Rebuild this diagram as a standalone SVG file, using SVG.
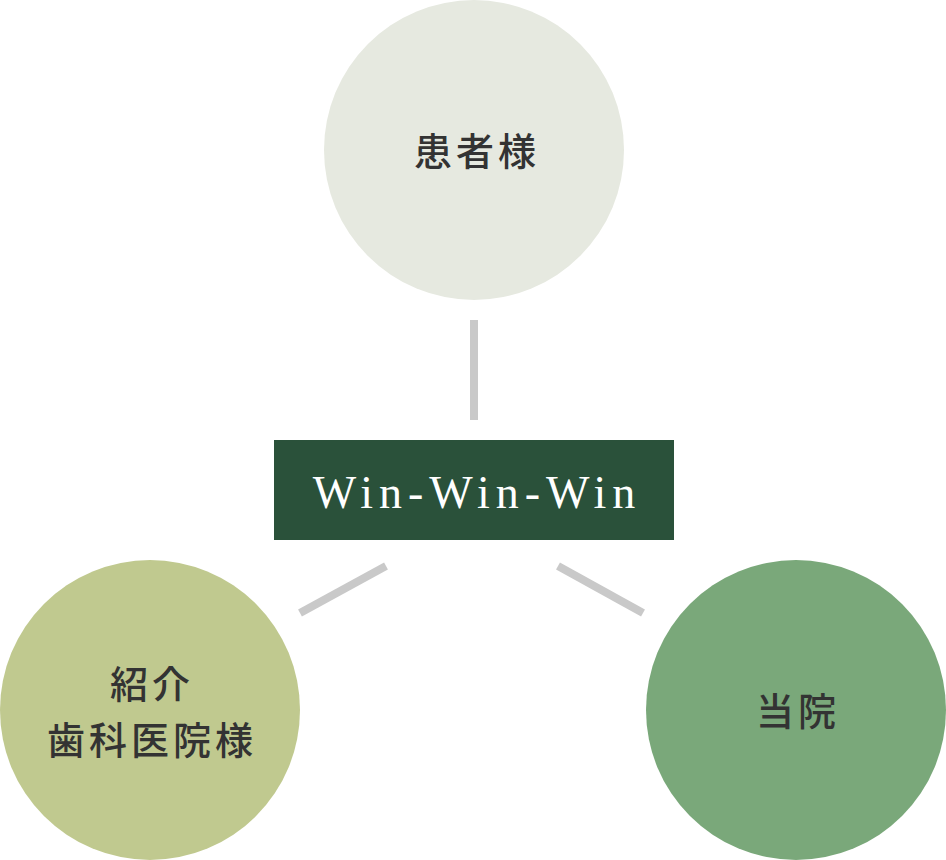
<svg xmlns="http://www.w3.org/2000/svg" width="946" height="860" viewBox="0 0 946 860">
<style>
.jp{font-family:"Noto Sans CJK JP","Noto Sans",sans-serif;font-size:38px;fill:#333333;letter-spacing:4px;text-anchor:middle;font-weight:500}
.win{font-family:"Liberation Serif","DejaVu Serif",serif;font-size:46px;fill:#ffffff;letter-spacing:6px;text-anchor:middle}
.conn{stroke:#c9c9c9;stroke-width:8;fill:none}
</style>
<rect width="946" height="860" fill="#ffffff"/>
<g id="connectors">
<line class="conn" x1="474" y1="320" x2="474" y2="420"/>
<line class="conn" x1="300" y1="613" x2="386" y2="566"/>
<line class="conn" x1="558" y1="566" x2="643" y2="613"/>
</g>
<g id="patient">
<circle cx="474" cy="150" r="150" fill="#e6e9e0"/>
<text class="jp" x="477" y="165">患者様</text>
</g>
<g id="center">
<rect x="274" y="440" width="400" height="100" fill="#2a513a"/>
<text class="win" x="477" y="508">Win-Win-Win</text>
</g>
<g id="referral">
<circle cx="150" cy="710" r="150" fill="#c0c98f"/>
<text class="jp" x="152" y="698">紹介</text>
<text class="jp" x="152" y="754">歯科医院様</text>
</g>
<g id="clinic">
<circle cx="796" cy="710" r="150" fill="#7aa87a"/>
<text class="jp" x="798" y="725">当院</text>
</g>
</svg>
